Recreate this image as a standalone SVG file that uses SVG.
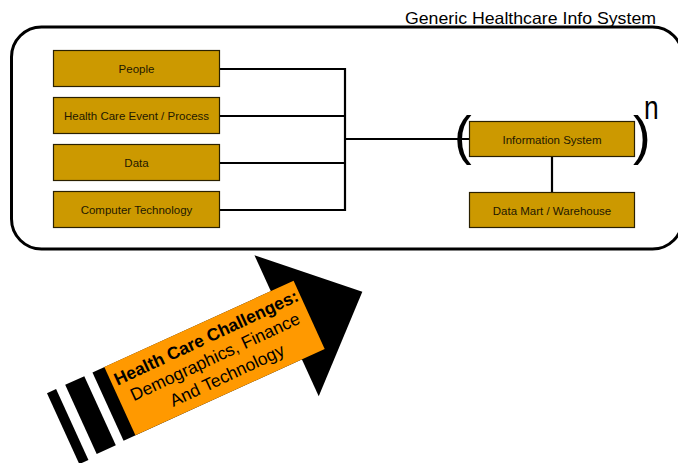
<svg xmlns="http://www.w3.org/2000/svg" width="678" height="463" viewBox="0 0 678 463">
  <style>
    text { font-family: "Liberation Sans", Arial, sans-serif; }
    .box { fill: #CC9900; stroke: #2a2000; stroke-width: 1.2; }
    .lbl { font-size: 11.5px; fill: #1e1800; text-anchor: middle; }
    .wire { fill: none; stroke: #000; stroke-width: 2.2; }
    .frame { fill: #fff; stroke: #000; stroke-width: 3; }
    .paren { font-size: 53px; fill: #000; }
    .arrowtxt { font-size: 17.5px; fill: #000; text-anchor: middle; }
  </style>

  <rect width="678" height="463" fill="#fff"/>

  <!-- system boundary -->
  <g id="system-frame">
    <rect class="frame" x="11.5" y="27" width="671" height="222" rx="30" ry="30"/>
    <text x="405" y="24" font-size="16.5" textLength="251" lengthAdjust="spacingAndGlyphs" fill="#000">Generic Healthcare Info System</text>
  </g>

  <!-- connectors -->
  <g id="connectors">
    <path class="wire" d="M219 69 H345 M219 116 H345 M219 163 H345 M219 210 H345 M345 68 V211 M345 139 H470"/>
    <path class="wire" d="M552 157 V192"/>
  </g>

  <g id="node-people">
    <rect class="box" x="53.5" y="50.5" width="166" height="36"/>
    <text class="lbl" x="136.5" y="73">People</text>
  </g>
  <g id="node-event">
    <rect class="box" x="53.5" y="97.5" width="166" height="36"/>
    <text class="lbl" x="136.5" y="120">Health Care Event / Process</text>
  </g>
  <g id="node-data">
    <rect class="box" x="53.5" y="144.5" width="166" height="36"/>
    <text class="lbl" x="136.5" y="167">Data</text>
  </g>
  <g id="node-tech">
    <rect class="box" x="53.5" y="191.5" width="166" height="36"/>
    <text class="lbl" x="136.5" y="214">Computer Technology</text>
  </g>

  <g id="node-infosys">
    <text class="paren" x="454" y="154">(</text>
    <rect class="box" x="469.5" y="121.5" width="165" height="35"/>
    <text class="lbl" x="552" y="144">Information System</text>
    <text class="paren" x="633" y="154">)</text>
    <text x="0" y="0" font-size="33" fill="#000" transform="translate(644 119) scale(0.8 1)">n</text>
  </g>

  <g id="node-datamart">
    <rect class="box" x="469.5" y="192.5" width="165" height="35"/>
    <text class="lbl" x="552" y="215">Data Mart / Warehouse</text>
  </g>

  <!-- challenges arrow -->
  <g id="challenges-arrow" transform="translate(214.5 358) rotate(-24.5)">
    <rect x="-167" y="-37.5" width="10" height="78" fill="#000"/>
    <rect x="-147" y="-37.5" width="21" height="76" fill="#000"/>
    <rect x="-117" y="-37.5" width="200" height="75" fill="#000"/>
    <polygon points="79,-77 162,1 79,78" fill="#000"/>
    <rect x="-104" y="-37.5" width="208" height="75" fill="#FF9900"/>
    <g transform="rotate(-0.6)">
      <text class="arrowtxt" x="1" y="-16" font-weight="bold">Health Care Challenges:</text>
      <text class="arrowtxt" x="1" y="5">Demographics, Finance</text>
      <text class="arrowtxt" x="4" y="27">And Technology</text>
    </g>
  </g>
</svg>
